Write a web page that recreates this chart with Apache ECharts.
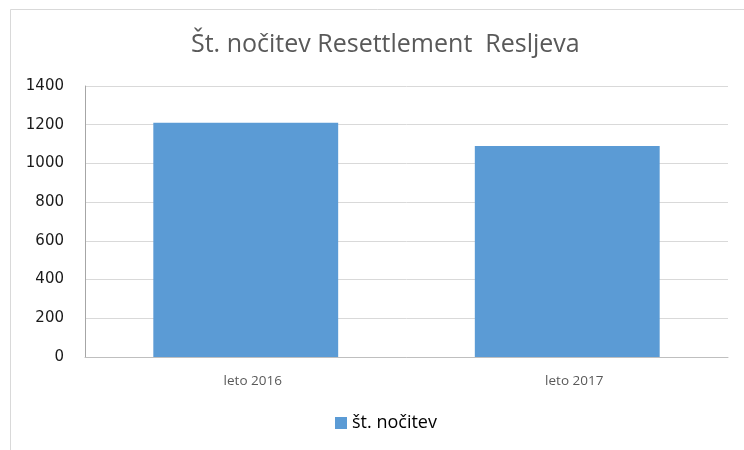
<!DOCTYPE html>
<html>
<head>
<meta charset="utf-8">
<script src="https://cdn.jsdelivr.net/npm/echarts@6/dist/echarts.min.js"></script>
<style>
  html, body { margin: 0; padding: 0; background: #fff; }
  #chart { width: 744px; height: 450px; }
</style>
</head>
<body>
<div id="chart"></div>
<script>
const titleText = "Št. nočitev Resettlement  Resljeva";
const seriesName = "št. nočitev";
const categories = ["leto 2016", "leto 2017"];
const values = [1210, 1090];
const yMin = 0;
const yMax = 1400;
const yStep = 200;

const chart = echarts.init(document.getElementById("chart"));

chart.setOption({
  backgroundColor: "#fff",
  animation: false,
  graphic: [
    {
      type: "rect",
      shape: { x: 10.5, y: 9.5, width: 760, height: 460 },
      style: { fill: "none", stroke: "#d9d9d9", lineWidth: 1 },
      silent: true
    }
  ],
  title: {
    text: titleText,
    left: 186,
    top: 27,
    textStyle: {
      fontFamily: "Open Sans",
      fontWeight: "normal",
      fontSize: 25,
      color: "#595959"
    }
  },
  legend: {
    data: [seriesName],
    bottom: 13,
    left: 330,
    itemWidth: 12,
    itemHeight: 12,
    itemGap: 3,
    icon: "rect",
    textStyle: {
      fontFamily: "Open Sans",
      fontSize: 18,
      color: "#000"
    }
  },
  grid: {
    left: 85,
    right: 16,
    top: 86,
    bottom: 93,
    containLabel: false
  },
  xAxis: {
    type: "category",
    data: categories,
    axisTick: { show: false },
    axisLine: { lineStyle: { color: "#bfbfbf" } },
    axisLabel: {
      margin: 17,
      fontFamily: "Open Sans",
      fontSize: 13.5,
      color: "#595959",
      padding: [0, 0, 0, 14]
    }
  },
  yAxis: {
    type: "value",
    min: yMin,
    max: yMax,
    interval: yStep,
    axisLine: { show: true, lineStyle: { color: "#a6a6a6" } },
    axisTick: { show: false },
    splitLine: { lineStyle: { color: "#d9d9d9", width: 1 } },
    axisLabel: {
      margin: 21,
      fontFamily: "DejaVu Sans",
      fontSize: 15,
      color: "#1a1a1a",
      formatter: v => String(v)
    }
  },
  series: [
    {
      name: seriesName,
      type: "bar",
      data: values,
      barCategoryGap: "42.5%",
      itemStyle: { color: "#5b9bd5" }
    }
  ]
});
</script>
</body>
</html>
